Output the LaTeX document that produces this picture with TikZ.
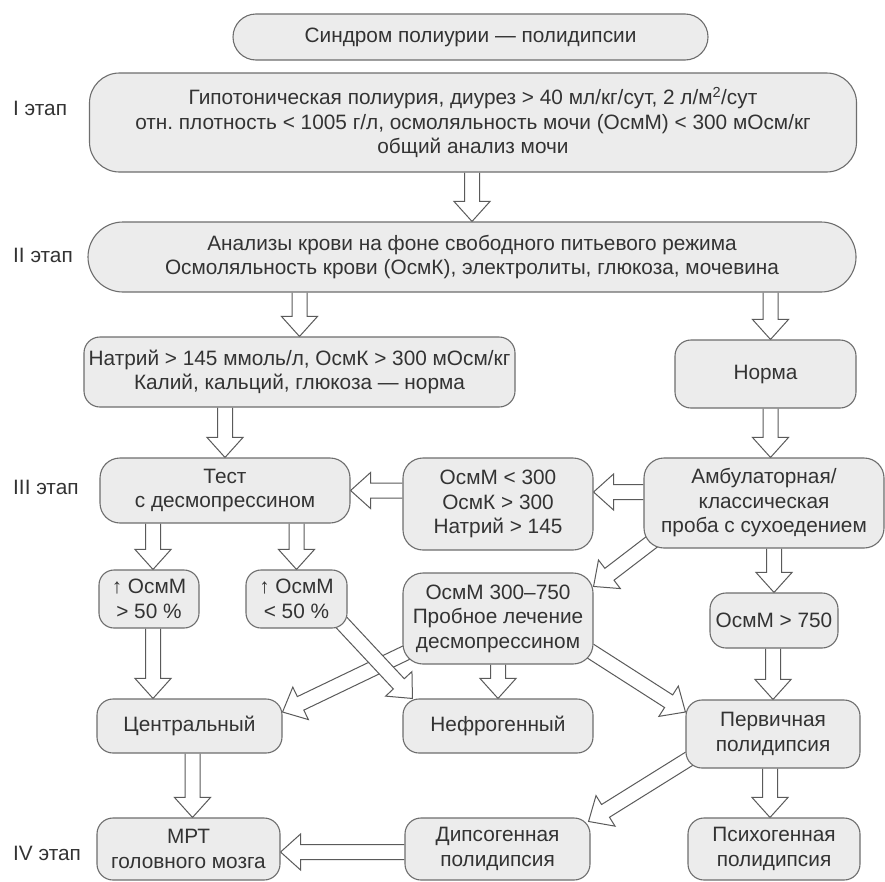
\documentclass[tikz,border=0pt]{standalone}
\usepackage{fontspec}
\setmainfont{Liberation Sans}
\usetikzlibrary{calc}
\pgfdeclarelayer{bg}
\pgfsetlayers{bg,main}
\definecolor{boxfill}{HTML}{ECECEC}
\definecolor{boxline}{HTML}{6E6E6E}
\definecolor{txt}{HTML}{333333}
\definecolor{arrline}{HTML}{5A5A5A}
\frenchspacing
\newcommand\harrow[2]{%
  \path (#1) coordinate (ha-s);
  \path (#2) coordinate (ha-e);
  \coordinate (ha-h) at ($(ha-e)!20pt!(ha-s)$);
  \filldraw[hollowarrow] ($(ha-s)!7.5pt!90:(ha-e)$) -- ($(ha-h)!7.5pt!90:(ha-e)$)
    -- ($(ha-h)!18pt!90:(ha-e)$) -- (ha-e) -- ($(ha-h)!18pt!-90:(ha-e)$)
    -- ($(ha-h)!7.5pt!-90:(ha-e)$) -- ($(ha-s)!7.5pt!-90:(ha-e)$);
}
\begin{document}
\begin{tikzpicture}[x=1pt,y=-1pt,
  box/.style={draw=boxline, fill=boxfill, line width=1.1pt, rounded corners=16pt,
    align=center, inner sep=0pt, text=txt, font=\fontsize{20.8}{24.5}\selectfont},
  stagelabel/.style={anchor=west, inner sep=0pt, text=txt, font=\fontsize{20.8}{24.5}\selectfont},
  hollowarrow/.style={draw=arrline, fill=white, line width=1pt, line join=miter}]
\useasboundingbox (0,0) rectangle (885,881);

\node[box, rounded corners=23pt, minimum width=475pt, minimum height=46pt] (top) at (470.5,37) {Синдром полиурии — полидипсии};
\node[box, rounded corners=30pt, minimum width=767pt, minimum height=99pt] (s1) at (473,122.5)
  {Гипотоническая полиурия, диурез > 40 мл/кг/сут, 2 л/м\textsuperscript{2}/сут\\отн. плотность < 1005 г/л, осмоляльность мочи (ОсмМ) < 300 мОсм/кг\\общий анализ мочи};
\node[box, rounded corners=35pt, minimum width=768pt, minimum height=70pt] (s2) at (472,257)
  {Анализы крови на фоне свободного питьевого режима\\Осмоляльность крови (ОсмК), электролиты, глюкоза, мочевина};
\node[box, minimum width=431pt, minimum height=70pt] (nat) at (299.5,372)
  {Натрий > 145 ммоль/л, ОсмК > 300 мОсм/кг\\Калий, кальций, глюкоза — норма};
\node[box, minimum width=181pt, minimum height=68pt] (norm) at (765.5,374) {Норма};
\node[box, rounded corners=20pt, minimum width=250pt, minimum height=65pt] (test) at (225,490.5) {Тест\\с десмопрессином};
\node[box, rounded corners=20pt, minimum width=190pt, minimum height=92pt] (lt300) at (498,504) {ОсмМ < 300\\ОсмК > 300\\Натрий > 145};
\node[box, rounded corners=20pt, minimum width=240pt, minimum height=90pt] (amb) at (764,503) {Амбулаторная/\\классическая\\проба с сухоедением};
\node[box, rounded corners=15pt, minimum width=100pt, minimum height=58pt] (up50) at (149,599) {↑ ОсмМ\\> 50 \%};
\node[box, rounded corners=15pt, minimum width=101pt, minimum height=58pt] (dn50) at (296.5,599) {↑ ОсмМ\\< 50 \%};
\node[box, rounded corners=20pt, minimum width=190pt, minimum height=91pt] (mid) at (498,618.5) {ОсмМ 300–750\\Пробное лечение\\десмопрессином};
\node[box, minimum width=128pt, minimum height=55pt] (gt750) at (774,620.5) {ОсмМ > 750};
\node[box, minimum width=185pt, minimum height=54pt] (central) at (189.5,726) {Центральный};
\node[box, minimum width=190pt, minimum height=54pt] (nephro) at (498,726) {Нефрогенный};
\node[box, minimum width=174pt, minimum height=68pt] (prim) at (773,734) {Первичная\\полидипсия};
\node[box, minimum width=183pt, minimum height=62pt] (mrt) at (188.5,849) {МРТ\\головного мозга};
\node[box, minimum width=185pt, minimum height=62pt] (dips) at (497.5,849) {Дипсогенная\\полидипсия};
\node[box, minimum width=172pt, minimum height=62pt] (psych) at (774,849) {Психогенная\\полидипсия};

\node[stagelabel] (l1) at (13,108) {I этап};
\node[stagelabel] (l2) at (13,255) {II этап};
\node[stagelabel] (l3) at (13,487) {III этап};
\node[stagelabel] (l4) at (13,853) {IV этап};

\begin{pgfonlayer}{bg}
\fill[white] (0,0) rectangle (885,881);
\harrow{s2.north |- s1.south}{s2.north}
\harrow{nat.north |- s2.south}{nat.north}
\harrow{$(norm.north |- s2.south)+(5,0)$}{$(norm.north)+(5,0)$}
\harrow{$(norm.south)+(5,0)$}{$(norm.south |- amb.north)+(5,0)$}
\harrow{test.north |- nat.south}{test.north}
\harrow{$(amb.west)+(0,-11)$}{$(lt300.east |- amb.west)+(0,-11)$}
\harrow{lt300.west |- test.east}{test.east}
\harrow{$(amb.south west)+(10,-8)$}{$(mid.north east)+(0,14)$}
\harrow{gt750.north |- amb.south}{gt750.north}
\harrow{$(up50.north |- test.south)+(4,0)$}{$(up50.north)+(4,0)$}
\harrow{dn50.north |- test.south}{dn50.north}
\harrow{$(up50.south)+(4,0)$}{$(up50.south |- central.north)+(4,0)$}
\harrow{$(mid.south west)+(4,-12)$}{$(central.east)+(0,-14)$}
\harrow{$(dn50.south east)+(-6,-6)$}{$(nephro.north west)+(10,0)$}
\harrow{nephro.north |- mid.south}{nephro.north}
\harrow{$(mid.south east)+(-4,-14)$}{$(prim.west)+(0,-22)$}
\harrow{prim.north |- gt750.south}{prim.north}
\harrow{$(central.south)+(3,0)$}{$(central.south |- mrt.north)+(3,0)$}
\harrow{$(prim.south)+(-3,0)$}{$(prim.south |- psych.north)+(-3,0)$}
\harrow{$(prim.south west)+(4,-10)$}{$(dips.north east)+(-2,4)$}
\harrow{$(dips.west)+(0,3)$}{$(mrt.east |- dips.west)+(0,3)$}
\end{pgfonlayer}
\end{tikzpicture}
\end{document}
